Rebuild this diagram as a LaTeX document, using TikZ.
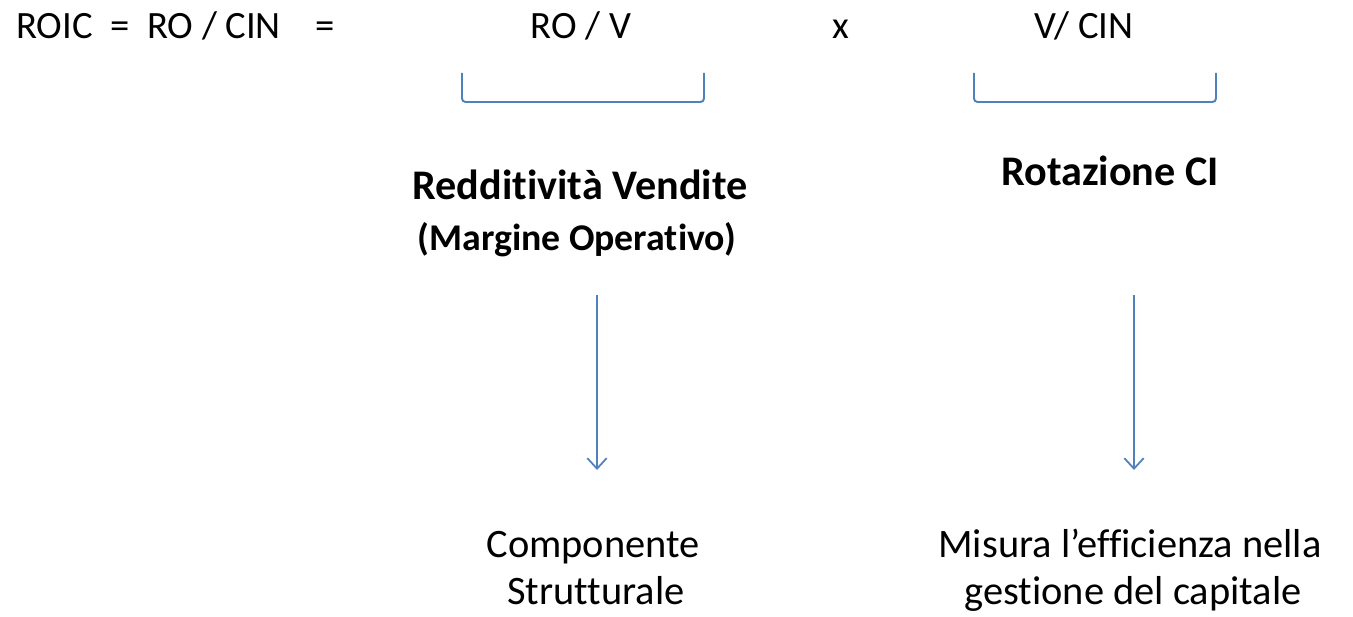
\documentclass[tikz,border=0pt]{standalone}
\usepackage{fontspec}
\setmainfont{Carlito}[Ligatures={NoCommon}]
\usetikzlibrary{positioning,arrows.meta}
\definecolor{lineblue}{HTML}{4F81BD}

\begin{document}
\begin{tikzpicture}[
  x=0.02cm, y=-0.02cm,
  formula/.style={inner sep=0pt, anchor=base, font=\fontsize{22}{26}\selectfont},
  heading/.style={inner sep=0pt, anchor=base, font=\fontsize{24}{28}\selectfont\bfseries},
  subhead/.style={inner sep=0pt, anchor=base, font=\fontsize{21.5}{25}\selectfont\bfseries},
  comment/.style={inner sep=0pt, anchor=base, font=\fontsize{23}{26}\selectfont},
  brace/.style={draw=lineblue, line width=1.1pt, rounded corners=2pt},
  down/.style={draw=lineblue, line width=1pt, -{Straight Barb[length=6pt,width=11pt,line width=1pt]}}
]
\useasboundingbox (0,0) rectangle (1353,617);

% top line
\node[formula, anchor=base west] (roic) at (16,39) {ROIC\ \ =\ \ RO / CIN\ \ \ \ =};
\node[formula] (rov) at (581,39) {RO / V};
\node[formula] (times) at (841,39) {x};
\node[formula] (vcin) at (1084,39) {V/ CIN};

% brackets under the two factors
\draw[brace] (462,73) -- (462,102) -- (704,102) -- (704,73);
\draw[brace] (974,73) -- (974,102) -- (1216,102) -- (1216,73);

% names of the two factors
\node[heading] (margin) at (580,200) {Redditività Vendite};
\node[subhead] (marginsub) at (577,251) {(Margine Operativo)};
\node[heading] (turn) at (1110,186) {Rotazione CI};

% arrows
\coordinate (a1top) at (597,295);
\coordinate (a1end) at (597,470);
\coordinate (a2top) at (1134,295);
\coordinate (a2end) at (1134,470);
\draw[down] (a1top) -- (a1end);
\draw[down] (a2top) -- (a2end);

% comments
\node[comment] (struct1) at (593,558) {Componente};
\node[comment] (struct2) at (596,605) {Strutturale};
\node[comment] (effic1) at (1130,558) {Misura l’efficienza nella};
\node[comment] (effic2) at (1133,605) {gestione del capitale};
\end{tikzpicture}
\end{document}
